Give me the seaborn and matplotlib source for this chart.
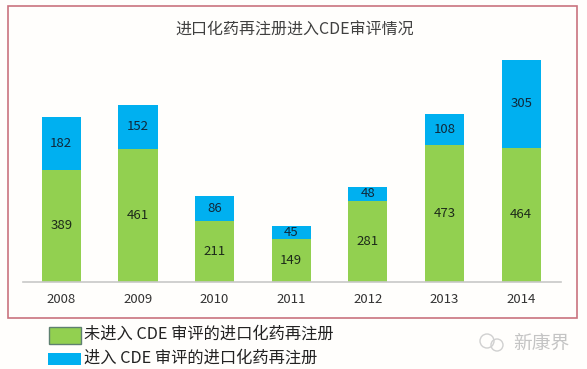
import matplotlib
matplotlib.use('Agg')
import matplotlib.pyplot as plt
import matplotlib.patches as mpatches
import pandas as pd
import seaborn as sns

years = ['2008', '2009', '2010', '2011', '2012', '2013', '2014']
not_entered = [389, 461, 211, 149, 281, 473, 464]
entered = [182, 152, 86, 45, 48, 108, 305]

title = '进口化药再注册进入CDE审评情况'
label_not_entered = '未进入 CDE 审评的进口化药再注册'
label_entered = '进入 CDE 审评的进口化药再注册'
watermark = '新康界'

GREEN = '#92d050'
BLUE = '#00b0f0'
W, H = 587, 369

sns.set_theme(style='white')
plt.rcParams['font.family'] = ['Noto Sans CJK SC', 'DejaVu Sans']

df = pd.DataFrame({'year': years, 'not_entered': not_entered, 'entered': entered})

fig = plt.figure(figsize=(W / 100, H / 100), dpi=100, facecolor='#fffefc')

# axes placed in pixels: baseline at y=282
ax = fig.add_axes([23 / W, 1 - 282 / H, 538 / W, 232 / H])
ax.patch.set_alpha(0)

sns.barplot(data=df, x='year', y='not_entered', color=GREEN, width=0.51,
            saturation=1, linewidth=0, ax=ax)
sns.barplot(data=df, x='year', y='entered', bottom=df['not_entered'], color=BLUE,
            width=0.51, saturation=1, linewidth=0, ax=ax)

for i, (a, b) in enumerate(zip(not_entered, entered)):
    ax.text(i, a / 2, str(a), ha='center', va='center', fontsize=9.5, color='#1d2a1a')
    ax.text(i, a + b / 2, str(b), ha='center', va='center', fontsize=9.5, color='#10283a')

ax.set_xlim(-0.5, 6.52)
ax.set_ylim(0, 803)
ax.set_yticks([])
ax.set_xlabel('')
ax.set_ylabel('')
ax.tick_params(axis='x', length=0, pad=8, labelsize=9.5, labelcolor='#333333')
sns.despine(ax=ax, left=True)
ax.spines['bottom'].set_color('#c8c8c8')
ax.spines['bottom'].set_linewidth(1.2)

fig.text(295 / W, 1 - 30 / H, title, ha='center', va='center', fontsize=11.5, color='#404040')

# red frame round the chart
fig.add_artist(mpatches.Rectangle((8 / W, 1 - 318 / H), 569 / W, 312 / H, fill=False,
                                  edgecolor='#c9737f', linewidth=1.2,
                                  transform=fig.transFigure))

# legend under the frame
fig.add_artist(mpatches.Rectangle((49 / W, 1 - 344 / H), 32 / W, 17 / H, facecolor=GREEN,
                                  edgecolor='#5f8070', linewidth=1,
                                  transform=fig.transFigure))
fig.add_artist(mpatches.Rectangle((48 / W, 1 - 365 / H), 33 / W, 12 / H, facecolor=BLUE,
                                  edgecolor='none', transform=fig.transFigure))
fig.text(84 / W, 1 - 334 / H, label_not_entered, ha='left', va='center', fontsize=11.7, color='#222222')
fig.text(84 / W, 1 - 358 / H, label_entered, ha='left', va='center', fontsize=11.7, color='#222222')

# watermark
fig.text(513 / W, 1 - 343 / H, watermark, ha='left', va='center', fontsize=13.5, color='#c4c4c4')
for cx, cy, r in [(487, 341, 7), (497, 345, 6)]:
    fig.add_artist(mpatches.Circle((cx / 100, (H - cy) / 100), r / 100, fill=False,
                                   edgecolor='#d0d0d0', linewidth=1,
                                   transform=fig.dpi_scale_trans))

fig.savefig('out.png', dpi=100, facecolor=fig.get_facecolor())
